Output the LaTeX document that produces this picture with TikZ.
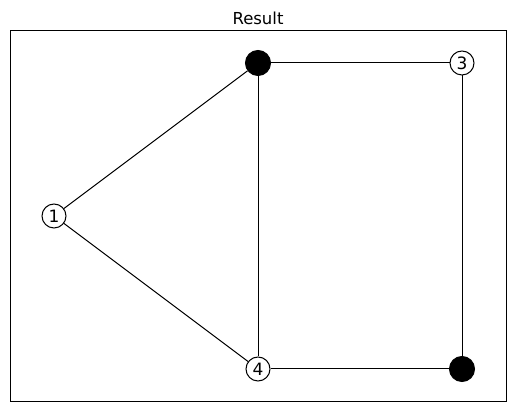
\documentclass[tikz,border=0pt]{standalone}
\usepackage{fontspec}
\setmainfont{DejaVu Sans}

\begin{document}
\begin{tikzpicture}[
  x=1pt, y=-1pt,
  whitenode/.style={circle, draw=black, fill=white, text=black,
                    minimum size=24pt, line width=1pt, inner sep=0pt,
                    font=\fontsize{17}{20}\selectfont},
  blacknode/.style={circle, draw=black, fill=black,
                    minimum size=25pt, line width=1pt, inner sep=0pt},
  edgeline/.style={black, line width=1pt}
]
  \useasboundingbox (0,0) rectangle (515,411);

  \node[anchor=base, font=\fontsize{16.5}{20}\selectfont] (title) at (258,25) {Result};
  \draw[line width=1pt] (10.5,31) rectangle (506.5,401.5);

  \node[whitenode] (v1) at (54,216) {1};
  \node[blacknode] (v2) at (258,63) {};
  \node[whitenode] (v3) at (462,63) {3};
  \node[whitenode] (v4) at (258,369) {4};
  \node[blacknode] (v5) at (462,369) {};

  \foreach \a/\b in {v1/v2, v1/v4, v2/v3, v2/v4, v3/v5, v4/v5} {
    \draw[edgeline] (\a) -- (\b);
  }
\end{tikzpicture}
\end{document}
